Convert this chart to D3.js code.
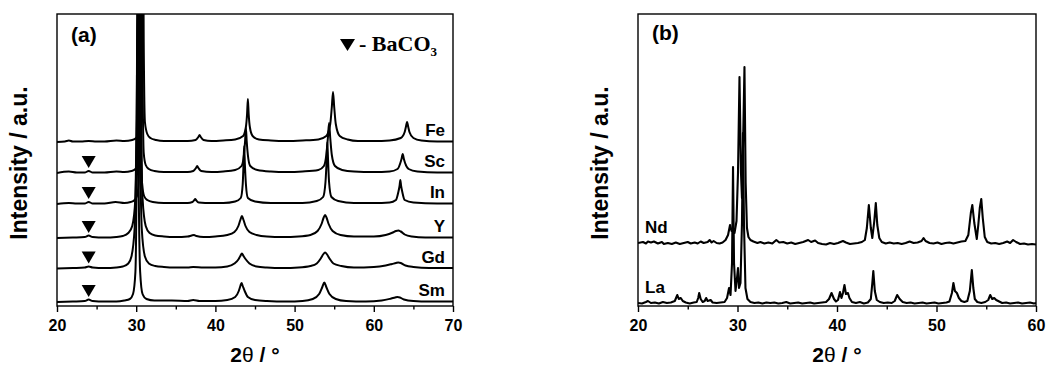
<!DOCTYPE html>
<html>
<head>
<meta charset="utf-8">
<script src="https://cdn.jsdelivr.net/npm/d3@7"></script>
<style>
  body { margin: 0; background: #fff; }
  svg { display: block; }
</style>
</head>
<body>
<svg id="chart" width="1046" height="365"></svg>
<script>
// XRD patterns, 2θ (deg) vs intensity (a.u., ~1 unit per px)

// ---- panel (a) ----
const SAMPLES_A = ["Fe", "Sc", "In", "Y", "Gd", "Sm"];
const OFFSETS_A = [164, 133, 102, 68, 37.5, 4];
const BACO3_SAMPLES = ["Sc", "In", "Y", "Gd", "Sm"];
const BACO3_POS = 24;
const TICKS_A = [20, 30, 40, 50, 60, 70];
const MINOR_A = [25, 35, 45, 55, 65];

const FE = [[20,0],[21,0.5],[21.5,1.5],[22,0.5],[23,0.5],[24,1],[25,0.5],[26,0.5],[27.5,1.5],[28.5,1],[29.5,2],[30,4],[30.3,8],[30.5,20],[30.65,100],[30.8,320],[30.95,100],[31.1,20],[31.4,8],[31.8,4],[32.5,2],[33.5,1],[35,1],[36.5,1],[37.5,2],[37.85,5],[38.0,7],[38.15,5],[38.5,2],[39.5,1],[41,1.5],[42.5,2.5],[43.5,6],[43.85,15],[44.0,28],[44.1,43],[44.2,28],[44.35,15],[44.7,6],[45.5,2.5],[47,1.5],[49,1],[51,1.5],[53,2.5],[54.0,6],[54.5,18],[54.7,35],[54.85,50],[55.0,35],[55.2,18],[55.7,6],[56.7,2.5],[58,1],[60,1],[62,1.5],[63.4,4],[63.9,10],[64.05,15],[64.2,20],[64.35,15],[64.5,10],[65.0,4],[66,1.5],[68,0.5],[70,0.5]];
const SC = [[20,0],[21.5,1.5],[22.5,0.5],[23.5,0.5],[24,2],[24.5,0.5],[26,0.5],[27.5,1.5],[28.5,1],[29.4,2],[29.9,4],[30.2,8],[30.4,20],[30.55,100],[30.65,320],[30.8,100],[30.95,20],[31.2,8],[31.6,4],[32.3,2],[33.5,1],[35,1],[36.5,1],[37.2,2],[37.55,5],[37.7,7],[37.85,5],[38.2,2],[39.5,1],[41,1.5],[42.5,3],[43.3,7],[43.6,18],[43.75,32],[43.85,45],[43.95,32],[44.1,18],[44.4,7],[45.3,3],[47,1.5],[49,1],[51,1.5],[53,3],[53.7,7],[54.0,18],[54.2,35],[54.35,50],[54.5,35],[54.7,18],[55.1,7],[56,3],[57.5,1.5],[60,1],[62,1.5],[63.0,4],[63.35,10],[63.5,14],[63.65,19],[63.8,14],[63.95,10],[64.4,4],[65.5,1.5],[68,0.5],[70,0.5]];
const IN = [[20,0],[21.5,1],[22.5,0.5],[23.5,0.5],[24,2],[24.5,0.5],[26,0.5],[27.4,2],[28.5,1],[29.3,2],[29.8,4],[30.1,8],[30.3,20],[30.42,100],[30.5,320],[30.6,100],[30.75,20],[31.0,8],[31.4,4],[32.1,2],[33.5,1],[35,1],[36.5,1],[37.1,2],[37.35,4],[37.45,5],[37.55,4],[37.9,1.5],[39.5,1],[41,1],[42.5,2.5],[43.2,6],[43.45,20],[43.55,40],[43.63,58],[43.72,40],[43.85,20],[44.1,6],[45,2.5],[47,1],[49,1],[51,1],[52.8,3],[53.6,7],[53.9,22],[54.05,45],[54.13,62],[54.22,45],[54.35,22],[54.65,7],[55.5,3],[57.5,1],[60,1],[62,1.5],[62.8,4],[63.1,12],[63.25,18],[63.35,24],[63.45,18],[63.6,12],[63.9,4],[65,1.5],[68,0.5],[70,0.5]];
const YT = [[20,0],[22,0.5],[23.5,1],[24,2.5],[24.5,1],[26,0.5],[27.5,1],[28.3,2],[29.0,5],[29.5,12],[29.9,40],[30.15,150],[30.35,320],[30.55,150],[30.8,40],[31.2,12],[31.7,5],[32.4,2.5],[33.5,1.5],[35,1],[36.5,1.5],[37.0,2.5],[37.3,3],[37.6,2],[38.5,1],[40,1.5],[41.5,3],[42.4,6],[42.9,12],[43.15,18],[43.35,22],[43.55,18],[43.8,12],[44.3,6],[45.2,3],[46.5,1.5],[48.5,1],[50.5,1.5],[52,3],[52.9,7],[53.4,14],[53.65,20],[53.85,23],[54.05,20],[54.3,14],[54.8,7],[55.8,3],[57.5,1.5],[60,1.5],[61.5,3],[62.4,5.5],[62.8,7],[63.1,7.5],[63.4,6.5],[63.9,3.5],[64.8,1.5],[66.5,0.5],[70,0.5]];
const GD = [[20,0],[22,0.5],[23.5,1],[24,2],[24.5,1],[26,0.5],[27.5,1],[28.3,2],[29.0,5],[29.4,12],[29.8,40],[30.05,150],[30.25,320],[30.45,150],[30.7,40],[31.1,12],[31.6,5],[32.4,2.5],[33.5,1.5],[35,1],[36.5,1],[37.2,1.5],[38.5,1],[40,1],[41.5,2],[42.4,5],[42.9,9],[43.15,12.5],[43.35,15],[43.55,12.5],[43.85,9],[44.3,5],[45.2,2],[46.5,1],[48.5,0.5],[50.5,1],[52,2.5],[52.8,5],[53.3,10],[53.6,14],[53.85,16],[54.1,14],[54.4,10],[54.9,5],[55.9,2.5],[57.5,1],[60,1.5],[61.5,3],[62.3,4.5],[62.8,5.5],[63.1,6],[63.4,5.5],[64,3],[65,1.5],[67,0.5],[70,0.5]];
const SM = [[20,0],[22,0.5],[23.5,1],[24,2.5],[24.5,1],[26,0.5],[27.5,0.5],[28.5,1.5],[29.2,3],[29.6,8],[29.9,30],[30.05,130],[30.15,320],[30.3,130],[30.5,30],[30.8,8],[31.3,3],[32.3,1.5],[34.5,1.5],[36.5,1],[37.2,2],[38,1],[40,1],[41.5,2],[42.5,5],[42.95,11],[43.15,16],[43.3,19],[43.45,16],[43.7,11],[44.1,5],[45,2],[46.5,1],[49,0.5],[51,1],[52.3,3],[53.1,8],[53.5,15],[53.75,19.5],[54.0,15],[54.4,8],[55.2,3],[56.5,1],[59,0.5],[61,1.5],[62.2,3.5],[62.7,4.5],[63.0,5],[63.3,4.5],[63.8,2.5],[65,1],[67,0.5],[70,0.5]];

// ---- panel (b) ----
const SAMPLES_B = ["Nd", "La"];
const OFFSETS_B = [63, 3];
const TICKS_B = [20, 30, 40, 50, 60];
const MINOR_B = [25, 35, 45, 55];

const ND = [[20,0],[20.5,1],[20.8,-0.5],[21.0,1.5],[21.3,0.5],[21.6,1.5],[22.0,-0.5],[22.4,1],[22.6,-1],[23,0],[23.4,-1],[23.8,0.5],[24.2,-1],[24.6,0],[25.0,1],[25.3,-0.5],[25.7,0.5],[26.0,-0.5],[26.3,1.5],[26.6,0],[27.0,1],[27.2,3],[27.4,0.5],[27.6,2],[27.9,0],[28.2,-0.5],[28.5,0.5],[28.8,3],[29.05,8],[29.25,18],[29.4,12],[29.55,15],[29.7,10],[29.9,22],[30.05,70],[30.2,166],[30.35,70],[30.45,45],[30.58,110],[30.7,176],[30.82,60],[30.95,15],[31.1,6],[31.3,3],[31.6,1.5],[32,0],[32.3,1],[32.7,-0.5],[33.1,0.5],[33.5,-0.5],[33.9,3],[34.2,0.5],[34.6,1],[35,-0.5],[35.4,0.5],[35.8,-1],[36.2,0],[36.6,1],[37.1,3],[37.4,1],[37.8,2.5],[38.1,0],[38.5,-1],[38.9,-1.5],[39.3,0],[39.7,-1],[40.1,0],[40.6,2],[40.9,0.5],[41.3,-1],[41.7,-0.5],[42.1,0],[42.5,1],[42.8,3],[43.0,15],[43.2,38],[43.4,15],[43.55,5],[43.75,22],[43.9,40],[44.05,18],[44.25,5],[44.5,1],[44.9,-0.5],[45.3,0.5],[45.7,-0.5],[46.1,0],[46.5,-1],[46.9,0],[47.3,1.5],[47.7,0],[48.1,0.5],[48.5,2],[48.7,5],[48.9,2],[49.3,0],[49.7,-0.5],[50.1,0.5],[50.5,-1],[50.9,0],[51.3,0.5],[51.7,-0.5],[52.1,0.5],[52.5,1.5],[52.9,2],[53.2,8],[53.45,30],[53.6,38],[53.8,20],[54.05,4],[54.2,18],[54.35,35],[54.5,44],[54.65,25],[54.85,6],[55.1,1],[55.5,-0.5],[55.9,0],[56.3,-1],[56.7,0],[57.1,1.5],[57.4,0],[57.7,3],[58.0,1],[58.4,-1],[58.8,-0.5],[59.2,-1.5],[59.6,-1],[60,-1.5]];
const LA = [[20,0],[20.4,-0.5],[20.8,1],[21.0,2],[21.3,0],[21.7,0.5],[22.1,-0.5],[22.5,1],[22.9,0],[23.3,0.5],[23.7,2],[23.95,8],[24.1,4],[24.3,5],[24.5,2],[24.8,0.5],[25.2,-0.5],[25.6,0.5],[25.9,1],[26.05,5],[26.15,10],[26.3,4],[26.5,1],[26.7,2],[26.85,5],[27.0,2],[27.3,3],[27.5,0.5],[27.9,0],[28.3,0.5],[28.7,1],[28.95,5],[29.15,15],[29.3,8],[29.45,40],[29.55,136],[29.65,40],[29.8,12],[29.95,25],[30.05,35],[30.15,15],[30.3,20],[30.45,80],[30.55,170],[30.65,80],[30.8,15],[31.0,4],[31.3,1],[31.7,0],[32.1,0.5],[32.5,-0.5],[32.9,0.5],[33.3,0],[33.7,0.5],[34.1,-0.5],[34.5,0],[34.9,1],[35.3,-0.5],[35.7,0],[36.1,0.5],[36.5,-0.5],[36.9,0],[37.3,0.5],[37.7,-0.5],[38.1,0],[38.5,0.5],[38.9,1],[39.2,4],[39.45,10],[39.7,4],[39.9,1.5],[40.1,3],[40.3,11],[40.45,5],[40.6,10],[40.75,18],[40.9,9],[41.1,10],[41.25,5],[41.5,1],[41.9,0],[42.3,1],[42.7,-0.5],[43.1,0.5],[43.4,4],[43.55,20],[43.65,32],[43.8,12],[44.0,3],[44.3,1],[44.7,0],[45.1,0.5],[45.5,0],[45.8,2],[46.05,8],[46.3,4],[46.6,1],[47,0],[47.4,0.5],[47.8,-0.5],[48.2,0],[48.6,0.5],[49,-0.5],[49.4,0],[49.8,0.5],[50.2,-0.5],[50.6,0],[51.0,0.5],[51.3,1.5],[51.55,10],[51.7,20],[51.85,12],[52.05,10],[52.25,5],[52.5,2],[52.8,1],[53.1,2],[53.35,12],[53.55,33],[53.7,15],[53.85,4],[54.1,1],[54.5,0],[54.9,1],[55.2,3],[55.4,8],[55.6,4],[55.8,5],[56.0,3],[56.3,1.5],[56.6,0],[57,0.5],[57.4,-0.5],[57.8,0],[58.2,0.5],[58.6,-0.5],[59,0],[59.4,0.5],[59.8,-0.5],[60,0]];

const TOP = 14, BOTTOM = 306;
const FONT = "'Liberation Sans', Arial, Helvetica, sans-serif";
const svg = d3.select("#chart");

function makePanel(id, left, right, xDomain, ticks, minor) {
  const g = svg.append("g");
  const x = d3.scaleLinear().domain(xDomain).range([left, right]);
  const y = d3.scaleLinear().domain([0, BOTTOM - TOP]).range([BOTTOM, TOP]);

  svg.append("clipPath").attr("id", `clip-${id}`)
    .append("rect").attr("x", left).attr("y", TOP)
    .attr("width", right - left).attr("height", BOTTOM - TOP);

  const plot = g.append("g").attr("clip-path", `url(#clip-${id})`);

  const major = g.append("g").attr("transform", `translate(0,${BOTTOM})`)
    .call(d3.axisBottom(x).tickValues(ticks).tickSize(6).tickPadding(8).tickFormat(d3.format("d")));
  const minorAx = g.append("g").attr("transform", `translate(0,${BOTTOM})`)
    .call(d3.axisBottom(x).tickValues(minor).tickSize(3.5).tickFormat(""));
  [major, minorAx].forEach(ax => {
    ax.select(".domain").remove();
    ax.selectAll("line").attr("stroke", "#000").attr("stroke-width", 1.4);
    ax.selectAll("text")
      .attr("font-family", FONT).attr("font-weight", "bold")
      .attr("font-size", 16).attr("fill", "#000");
  });

  g.append("rect")
    .attr("x", left).attr("y", TOP)
    .attr("width", right - left).attr("height", BOTTOM - TOP)
    .attr("fill", "none").attr("stroke", "#000").attr("stroke-width", 1.4);

  // axis titles
  const xt = g.append("text")
    .attr("x", (left + right) / 2).attr("y", 362)
    .attr("text-anchor", "middle")
    .attr("font-family", FONT).attr("font-size", 21).attr("font-weight", "bold");
  xt.append("tspan").text("2");
  xt.append("tspan").attr("font-weight", "normal").text("θ");
  xt.append("tspan").text(" / °");

  g.append("text")
    .attr("transform", `translate(${left - 30},${(TOP + BOTTOM) / 2 + 3}) rotate(-90)`)
    .attr("text-anchor", "middle")
    .attr("font-family", FONT).attr("font-size", 23).attr("font-weight", "bold")
    .text("Intensity / a.u.");

  return { g, plot, x, y };
}

function drawPatterns(panel, patterns, offsets, curve, width) {
  const { plot, x, y } = panel;
  patterns.forEach((pts, i) => {
    const line = d3.line()
      .x(d => x(d[0]))
      .y(d => y(d[1] + offsets[i]))
      .curve(curve);
    plot.append("path")
      .datum(pts)
      .attr("d", line)
      .attr("fill", "none")
      .attr("stroke", "#000")
      .attr("stroke-width", width)
      .attr("stroke-linejoin", "round");
  });
}

// ---- panel (a) ----
const pa = makePanel("a", 57, 453, [20, 70], TICKS_A, MINOR_A);
drawPatterns(pa, [FE, SC, IN, YT, GD, SM], OFFSETS_A, d3.curveMonotoneX, 2);

SAMPLES_A.forEach((name, i) => {
  pa.g.append("text")
    .attr("x", pa.x(70) - 8).attr("y", pa.y(OFFSETS_A[i]) - 6)
    .attr("text-anchor", "end")
    .attr("font-family", FONT).attr("font-size", 17).attr("font-weight", "bold")
    .text(name);
});

BACO3_SAMPLES.forEach(name => {
  const i = SAMPLES_A.indexOf(name);
  pa.g.append("path")
    .attr("d", d3.symbol(d3.symbolTriangle, 85)())
    .attr("transform", `translate(${pa.x(BACO3_POS)},${pa.y(OFFSETS_A[i]) - 13}) rotate(180)`)
    .attr("fill", "#000");
});

pa.g.append("text")
  .attr("x", 71).attr("y", 42)
  .attr("font-family", FONT).attr("font-size", 21).attr("font-weight", "bold")
  .text("(a)");

// legend ▼ - BaCO3
pa.g.append("path")
  .attr("d", "M340,39 L355,39 L347.5,51 Z")
  .attr("fill", "#000");
const leg = pa.g.append("text")
  .attr("x", 359).attr("y", 51)
  .attr("font-family", "'Liberation Serif', 'Times New Roman', serif")
  .attr("font-size", 22).attr("font-weight", "bold");
leg.append("tspan").text("- BaCO");
leg.append("tspan").attr("font-size", 13).attr("dy", 5).text("3");

// ---- panel (b) ----
const pb = makePanel("b", 638, 1036, [20, 60], TICKS_B, MINOR_B);
drawPatterns(pb, [ND, LA], OFFSETS_B, d3.curveLinear, 2.1);

SAMPLES_B.forEach((name, i) => {
  pb.g.append("text")
    .attr("x", pb.x(20) + 7).attr("y", pb.y(OFFSETS_B[i]) - 10)
    .attr("font-family", FONT).attr("font-size", 17).attr("font-weight", "bold")
    .text(name);
});

pb.g.append("text")
  .attr("x", 652).attr("y", 40)
  .attr("font-family", FONT).attr("font-size", 21).attr("font-weight", "bold")
  .text("(b)");
</script>
</body>
</html>
